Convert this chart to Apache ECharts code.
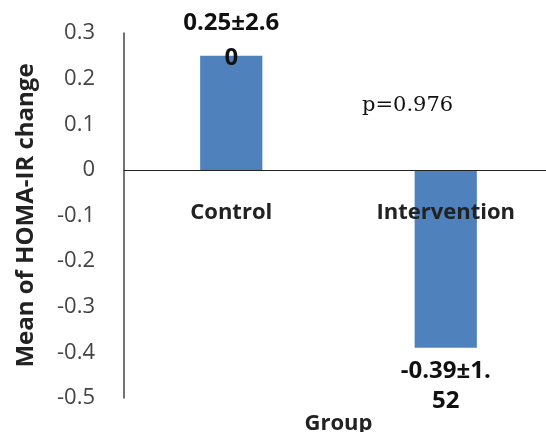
<!DOCTYPE html>
<html><head><meta charset="utf-8">
<script src="https://cdn.jsdelivr.net/npm/echarts@6/dist/echarts.min.js"></script>
<style>html,body{margin:0;padding:0;background:#fff}#c{width:546px;height:432px}</style>
</head><body><div id="c"></div>
<script>
const categories = ['Control', 'Intervention'];
const values = [0.25, -0.39];
const barLabels = ['0.25±2.6\n0', '-0.39±1.\n52'];
const yMin = -0.5, yMax = 0.3, yStep = 0.1;
const annotation = 'p=0.976';

const chart = echarts.init(document.getElementById('c'), null, {renderer: 'canvas'});
chart.setOption({
  animation: false,
  backgroundColor: '#fff',
  grid: {left: 124, right: -7, top: 33, bottom: 34, containLabel: false, outerBoundsMode: 'none'},
  xAxis: {
    type: 'category', data: categories, z: 5,
    offset: -228,
    name: 'Group', nameLocation: 'middle', nameGap: 243,
    nameTextStyle: {fontFamily: 'Open Sans', fontSize: 22, fontWeight: 'bold', color: '#222'},
    axisLine: {onZero: false, lineStyle: {color: '#222', width: 1}},
    axisTick: {show: false},
    axisLabel: {margin: 32, fontFamily: 'Open Sans', fontSize: 22, fontWeight: 'bold', color: '#222'}
  },
  yAxis: {
    type: 'value', min: yMin, max: yMax, interval: yStep,
    name: 'Mean of HOMA-IR change', nameLocation: 'middle', nameGap: 86,
    nameTextStyle: {fontFamily: 'Open Sans', fontSize: 24, fontWeight: 'bold', color: '#222'},
    axisLine: {show: true, lineStyle: {color: '#444', width: 1.5}},
    axisTick: {show: false},
    splitLine: {show: false},
    axisLabel: {margin: 29, fontFamily: 'Open Sans', fontSize: 22, color: '#444',
      formatter: v => { const r = Math.round(v * 10) / 10; return r === 0 ? '0' : r.toFixed(1); }}
  },
  series: [{
    type: 'bar', barWidth: '29%',
    itemStyle: {color: '#4F81BD'},
    data: values.map((v, i) => ({
      value: v,
      label: i === 0
        ? {show: true, position: 'top', distance: 0, offset: [0, 20], lineHeight: 35}
        : {show: true, position: 'bottom', distance: 8, lineHeight: 30}
    })),
    label: {
      show: true, fontFamily: 'Open Sans', fontSize: 24, fontWeight: 'bold', color: '#111',
      formatter: p => barLabels[p.dataIndex]
    }
  }],
  graphic: [{
    type: 'text', left: 362, top: 95,
    style: {text: annotation, fontFamily: 'DejaVu Serif', fontSize: 21, fill: '#111'}
  }]
});
</script></body></html>
